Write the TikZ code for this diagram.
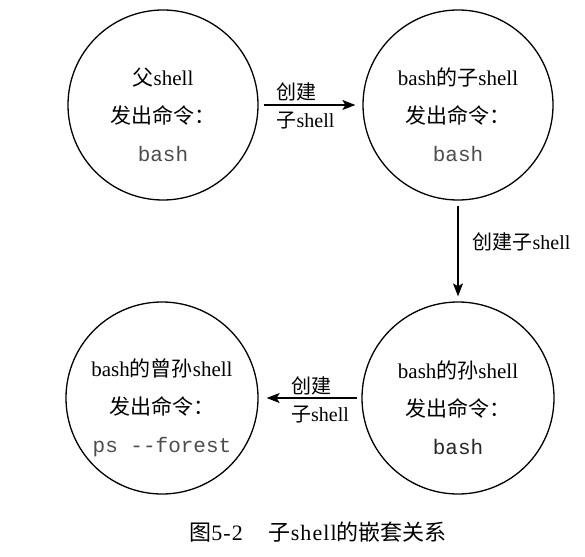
\documentclass[tikz,border=0pt]{standalone}
\usepackage{fontspec}
\setmainfont{Liberation Serif}
\setmonofont{Liberation Mono}
\newfontfamily\cjk{Noto Sans CJK SC}
\newfontfamily\capfont[LetterSpace=5]{Liberation Serif}
\usetikzlibrary{arrows.meta}
\newcommand\zh[1]{{\cjk #1}}
\begin{document}
\begin{tikzpicture}[x=1pt,y=1pt,
  ring/.style={circle,draw,line width=1.3pt,minimum size=#1,inner sep=0pt},
  ring/.default=190pt,
  body/.style={align=center,inner sep=0pt,font=\fontsize{21}{38}\selectfont},
  lab/.style={align=left,inner sep=0pt,font=\fontsize{20}{28}\selectfont},
  conn/.style={line width=1.2pt,-{Stealth[length=13pt,width=10pt,inset=3pt]}}]
\useasboundingbox (0,0) rectangle (585,-556);
\node[ring] (A) at (163,-105) {};
\node[ring] (B) at (458,-105) {};
\node[ring=192pt] (C) at (162,-398) {};
\node[ring=192pt] (D) at (458,-398) {};
\node[body] (At) at ([yshift=-10pt]A.center) {\zh{父}shell\\\zh{发出命令：}\\{\ttfamily\color{black!70}bash}};
\node[body] (Bt) at ([yshift=-10pt]B.center) {bash\zh{的子}shell\\\zh{发出命令：}\\{\ttfamily\color{black!70}bash}};
\node[body] (Ct) at ([yshift=-10pt]C.center) {bash\zh{的曾孙}shell\\\zh{发出命令：}\\{\ttfamily\color{black!70}ps --forest}};
\node[body] (Dt) at ([yshift=-10pt]D.center) {bash\zh{的孙}shell\\\zh{发出命令：}\\{\ttfamily\color{black!85}bash}};
\draw[conn] ([xshift=5pt]A.east) -- node[lab,xshift=-4pt,yshift=-1pt] (l1) {\zh{创建}\\\zh{子}shell} ([xshift=-7pt]B.west);
\draw[conn] ([yshift=-5pt]B.south) -- node[lab,anchor=west,xshift=14pt,yshift=9pt] (l2) {\zh{创建子}shell} ([yshift=5pt]D.north);
\draw[conn] ([xshift=-4pt]D.west) -- node[lab,xshift=8pt,yshift=-2pt] (l3) {\zh{创建}\\\zh{子}shell} ([xshift=8pt]C.east);
\node[font=\fontsize{22}{22}\selectfont,inner sep=0pt] (cap) at (318,-532) {\zh{图}{\capfont 5-2}\hspace{26pt}\zh{子}{\capfont shell}\zh{的嵌套关系}};
\end{tikzpicture}
\end{document}
